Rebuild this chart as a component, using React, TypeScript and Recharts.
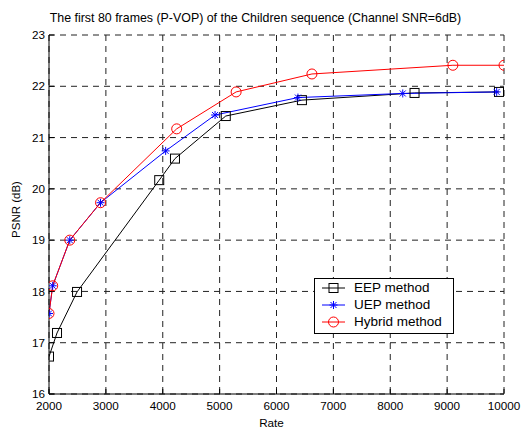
import React from 'react';
import { LineChart, Line, XAxis, YAxis, CartesianGrid, Legend, Label } from 'recharts';

const rateTicks = [2000, 3000, 4000, 5000, 6000, 7000, 8000, 9000, 10000];
const psnrTicks = [16, 17, 18, 19, 20, 21, 22, 23];

const eepRate = [2000, 2141, 2493, 3938, 4215, 5108, 6447, 8427, 9912];
const eepPsnr = [16.73, 17.19, 17.99, 20.17, 20.59, 21.42, 21.73, 21.87, 21.89];

const uepRate = [2000, 2065, 2365, 2906, 4051, 4920, 6377, 8220, 9871];
const uepPsnr = [17.57, 18.11, 19.0, 19.73, 20.74, 21.44, 21.78, 21.86, 21.89];

const hybRate = [2000, 2065, 2365, 2906, 4245, 5290, 6623, 9101, 10000];
const hybPsnr = [17.57, 18.11, 19.0, 19.73, 21.17, 21.89, 22.24, 22.41, 22.41];

const seriesNames = ['EEP method', 'UEP method', 'Hybrid method'];
const titleText = 'The first 80 frames (P-VOP) of the Children sequence (Channel SNR=6dB)';

const zip = (xs: number[], ys: number[]) => xs.map((x, i) => ({ x, y: ys[i] }));
const eepData = zip(eepRate, eepPsnr);
const uepData = zip(uepRate, uepPsnr);
const hybData = zip(hybRate, hybPsnr);

const FONT = '"Liberation Sans", Arial, sans-serif';

const squareShape = (cx: number, cy: number, key?: string) => (
  <rect key={key} x={cx - 4.5} y={cy - 4.5} width={9} height={9} fill="none" stroke="#000" strokeWidth={1} />
);
const starShape = (cx: number, cy: number, key?: string) => (
  <g key={key} stroke="#0000ff" strokeWidth={1}>
    <line x1={cx - 4} y1={cy} x2={cx + 4} y2={cy} />
    <line x1={cx} y1={cy - 4} x2={cx} y2={cy + 4} />
    <line x1={cx - 3} y1={cy - 3} x2={cx + 3} y2={cy + 3} />
    <line x1={cx - 3} y1={cy + 3} x2={cx + 3} y2={cy - 3} />
  </g>
);
const circleShape = (cx: number, cy: number, key?: string) => (
  <circle key={key} cx={cx} cy={cy} r={5} fill="none" stroke="#ff0000" strokeWidth={1} />
);

const SquareDot = (p: any) => squareShape(p.cx, p.cy, `sq${p.index}`);
const StarDot = (p: any) => starShape(p.cx, p.cy, `st${p.index}`);
const CircleDot = (p: any) => circleShape(p.cx, p.cy, `ci${p.index}`);

const legendItems = [
  { name: seriesNames[0], color: '#000000', shape: squareShape },
  { name: seriesNames[1], color: '#0000ff', shape: starShape },
  { name: seriesNames[2], color: '#ff0000', shape: circleShape },
];

const LegendBox = () => (
  <div
    style={{
      width: 140,
      height: 56,
      boxSizing: 'border-box',
      border: '1px solid #000',
      background: '#fff',
      paddingTop: 1,
      fontFamily: FONT,
      fontSize: 13.5,
      color: '#000',
    }}
  >
    {legendItems.map((it) => (
      <div key={it.name} style={{ height: 16.7, display: 'flex', alignItems: 'center', whiteSpace: 'nowrap' }}>
        <svg width={39} height={16} style={{ display: 'block', flex: 'none' }}>
          <line x1={7} y1={8} x2={30} y2={8} stroke={it.color} strokeWidth={1} />
          {it.shape(18.5, 8)}
        </svg>
        <span style={{ lineHeight: '16px' }}>{it.name}</span>
      </div>
    ))}
  </div>
);

export default function App() {
  return (
    <div style={{ position: 'absolute', left: 0, top: 0, width: 523, height: 428, background: '#fff' }}>
      <div
        style={{
          position: 'absolute',
          left: 0,
          top: 12,
          width: 511,
          textAlign: 'center',
          fontFamily: FONT,
          fontSize: 12.4,
          lineHeight: '12px',
          color: '#000',
          whiteSpace: 'nowrap',
        }}
      >
        {titleText}
      </div>
      <LineChart
        width={523}
        height={428}
        margin={{ top: 35, right: 19, left: 0, bottom: 0 }}
        style={{ position: 'absolute', left: 0, top: 0 }}
      >
        <CartesianGrid
          stroke="#222"
          strokeDasharray="6 5"
          horizontalValues={psnrTicks}
          verticalValues={rateTicks}
        />
        <XAxis
          dataKey="x"
          type="number"
          domain={[2000, 10000]}
          ticks={rateTicks}
          allowDataOverflow
          height={34}
          tickSize={-5}
          tickMargin={12.5}
          axisLine={{ stroke: '#000' }}
          tickLine={{ stroke: '#000' }}
          tick={{ fill: '#000', fontSize: 11.7, fontFamily: FONT }}
          interval={0}
        >
          <Label value="Rate" position="insideBottom" offset={1} dx={-5} fill="#000" fontSize={11.7} fontFamily={FONT} />
        </XAxis>
        <XAxis
          xAxisId="top"
          orientation="top"
          dataKey="x"
          type="number"
          domain={[2000, 10000]}
          ticks={rateTicks}
          allowDataOverflow
          height={0}
          tickSize={-5}
          axisLine={{ stroke: '#000' }}
          tickLine={{ stroke: '#000' }}
          tickFormatter={() => ''}
          interval={0}
        />
        <YAxis
          type="number"
          domain={[16, 23]}
          ticks={psnrTicks}
          allowDataOverflow
          width={49}
          tickSize={-5}
          tickMargin={9}
          axisLine={{ stroke: '#000' }}
          tickLine={{ stroke: '#000' }}
          tick={{ fill: '#000', fontSize: 11.7, fontFamily: FONT }}
          interval={0}
        >
          <Label
            value="PSNR (dB)"
            angle={-90}
            position="insideLeft"
            offset={0}
            dx={16}
            dy={-5}
            fill="#000"
            fontSize={11.5}
            fontFamily={FONT}
            style={{ textAnchor: 'middle' }}
          />
        </YAxis>
        <YAxis
          yAxisId="right"
          orientation="right"
          type="number"
          domain={[16, 23]}
          ticks={psnrTicks}
          allowDataOverflow
          width={0}
          tickSize={-5}
          axisLine={{ stroke: '#000' }}
          tickLine={{ stroke: '#000' }}
          tickFormatter={() => ''}
          interval={0}
        />
        <Legend
          layout="vertical"
          align="center"
          verticalAlign="middle"
          content={() => <LegendBox />}
          wrapperStyle={{ position: 'absolute', left: 314, top: 278, width: 140, height: 56 }}
        />
        <Line
          data={eepData}
          dataKey="y"
          name={seriesNames[0]}
          type="linear"
          stroke="#000000"
          strokeWidth={1}
          dot={SquareDot}
          activeDot={false}
          isAnimationActive={false}
        />
        <Line
          data={uepData}
          dataKey="y"
          name={seriesNames[1]}
          type="linear"
          stroke="#0000ff"
          strokeWidth={1}
          dot={StarDot}
          activeDot={false}
          isAnimationActive={false}
        />
        <Line
          data={hybData}
          dataKey="y"
          name={seriesNames[2]}
          type="linear"
          stroke="#ff0000"
          strokeWidth={1}
          dot={CircleDot}
          activeDot={false}
          isAnimationActive={false}
        />
      </LineChart>
    </div>
  );
}
